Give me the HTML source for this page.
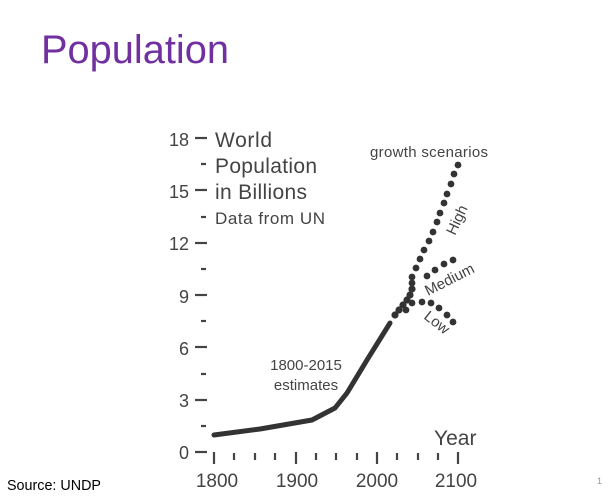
<!DOCTYPE html>
<html><head><meta charset="utf-8"><style>
html,body{margin:0;padding:0;background:#fff;width:610px;height:504px;overflow:hidden}
</style></head><body>
<svg width="610" height="504" viewBox="0 0 610 504" xmlns="http://www.w3.org/2000/svg" font-family="Liberation Sans, sans-serif">
<text x="41" y="63" font-size="40" fill="#7030A0" textLength="188" lengthAdjust="spacingAndGlyphs">Population</text>
<text x="7" y="490" font-size="15" fill="#000" textLength="94" lengthAdjust="spacingAndGlyphs">Source: UNDP</text>
<text x="597" y="484" font-size="9" fill="#999">1</text>
<g fill="#444" stroke="none">
<g font-size="18" text-anchor="end">
<text x="189" y="146">18</text><text x="189" y="198">15</text><text x="189" y="250">12</text>
<text x="189" y="303">9</text><text x="189" y="355">6</text><text x="189" y="407">3</text><text x="189" y="459">0</text>
</g>
<g font-size="21"><text x="215" y="147" textLength="57">World</text><text x="215" y="173" textLength="102">Population</text><text x="215" y="199" textLength="92">in Billions</text></g>
<text x="215" y="224" font-size="17" textLength="110">Data from UN</text>
<text x="370" y="157" font-size="15" textLength="118">growth scenarios</text>
<text x="306" y="370" font-size="15" text-anchor="middle">1800-2015</text>
<text x="306" y="390" font-size="15" text-anchor="middle">estimates</text>
<text x="434" y="445" font-size="21">Year</text>
<g font-size="19" text-anchor="middle">
<text x="217" y="487">1800</text><text x="297" y="487">1900</text><text x="377" y="487">2000</text><text x="456" y="487">2100</text>
</g>
<text font-size="15" transform="translate(455,236) rotate(-65)">High</text>
<text font-size="15" transform="translate(428,296) rotate(-27)">Medium</text>
<text font-size="15" transform="translate(423,318) rotate(38)">Low</text>
</g>
<g stroke="#444" stroke-width="2.2">
<line x1="195" y1="138" x2="207" y2="138"/>
<line x1="201" y1="164" x2="206" y2="164"/>
<line x1="195" y1="190" x2="207" y2="190"/>
<line x1="201" y1="217" x2="206" y2="217"/>
<line x1="195" y1="243" x2="207" y2="243"/>
<line x1="201" y1="269" x2="206" y2="269"/>
<line x1="195" y1="295" x2="207" y2="295"/>
<line x1="201" y1="321" x2="206" y2="321"/>
<line x1="195" y1="347" x2="207" y2="347"/>
<line x1="201" y1="374" x2="206" y2="374"/>
<line x1="195" y1="400" x2="207" y2="400"/>
<line x1="201" y1="426" x2="206" y2="426"/>
<line x1="195" y1="452" x2="207" y2="452"/>
<line x1="214" y1="452" x2="214" y2="464"/><line x1="234" y1="453" x2="234" y2="460"/><line x1="255" y1="453" x2="255" y2="460"/><line x1="275" y1="453" x2="275" y2="460"/>
<line x1="296" y1="452" x2="296" y2="464"/><line x1="316" y1="453" x2="316" y2="460"/><line x1="336" y1="453" x2="336" y2="460"/><line x1="357" y1="453" x2="357" y2="460"/>
<line x1="377" y1="452" x2="377" y2="464"/><line x1="397" y1="453" x2="397" y2="460"/><line x1="418" y1="453" x2="418" y2="460"/><line x1="438" y1="453" x2="438" y2="460"/>
<line x1="458" y1="452" x2="458" y2="464"/>
</g>
<path d="M214,435 L260,429 L312,420 L335,408 L347,393 L367,360 L390,323" fill="none" stroke="#333" stroke-width="5" stroke-linecap="round" stroke-linejoin="round"/>
<g fill="#333">
<circle cx="395" cy="315" r="3.6"/><circle cx="399" cy="310" r="3.6"/><circle cx="403" cy="305" r="3.6"/><circle cx="407" cy="300" r="3.6"/>
<circle cx="410" cy="295" r="3.6"/><circle cx="412" cy="289" r="3.6"/>
<circle cx="406" cy="310" r="3.4"/>
<circle cx="412" cy="277" r="3.4"/><circle cx="416" cy="268" r="3.4"/><circle cx="420" cy="259" r="3.4"/><circle cx="424" cy="250" r="3.4"/><circle cx="429" cy="241" r="3.4"/><circle cx="433" cy="232" r="3.4"/><circle cx="437" cy="222" r="3.4"/><circle cx="440" cy="213" r="3.4"/><circle cx="444" cy="203" r="3.4"/><circle cx="447" cy="194" r="3.4"/><circle cx="451" cy="184" r="3.4"/><circle cx="454" cy="174" r="3.4"/><circle cx="458" cy="165" r="3.4"/>
<circle cx="412" cy="283" r="3.4"/><circle cx="427" cy="276" r="3.4"/><circle cx="435" cy="270" r="3.4"/><circle cx="444" cy="264" r="3.4"/><circle cx="453" cy="260" r="3.4"/>
<circle cx="412" cy="303" r="3.4"/><circle cx="422" cy="302" r="3.4"/><circle cx="431" cy="303" r="3.4"/><circle cx="439" cy="308" r="3.4"/><circle cx="447" cy="315" r="3.4"/><circle cx="453" cy="322" r="3.4"/>
</g>
</svg>
</body></html>
